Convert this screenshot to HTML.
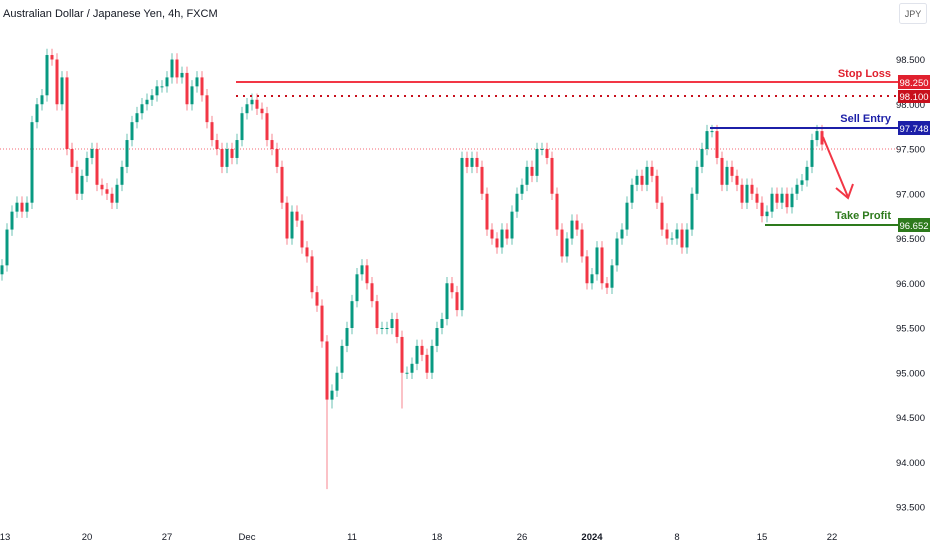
<!DOCTYPE html>
<html><head><meta charset="utf-8"><style>
body{margin:0;background:#fff;font-family:"Liberation Sans",sans-serif}
svg{display:block}
</style></head><body>
<svg width="932" height="550" xmlns="http://www.w3.org/2000/svg">
<text x="3" y="17" font-size="11" fill="#131722">Australian Dollar / Japanese Yen, 4h, FXCM</text>
<g><rect x="899.5" y="3.5" width="27" height="20" rx="2" fill="#fff" stroke="#e0e3eb"/><text x="913" y="17" font-size="9" fill="#555" text-anchor="middle">JPY</text></g>
<g id="yaxis"></g>
<g id="xaxis"></g>
<line x1="0" y1="149" x2="898" y2="149" stroke="#f23645" stroke-width="0.7" stroke-dasharray="1,2"/>
<g id="candles"></g>
<line x1="236" y1="82" x2="898" y2="82" stroke="#f23645" stroke-width="2"/>
<line x1="236" y1="96" x2="898" y2="96" stroke="#c8101d" stroke-width="2" stroke-dasharray="2,5"/>
<line x1="710" y1="128" x2="898" y2="128" stroke="#1c1fa8" stroke-width="2"/>
<line x1="765" y1="225" x2="898" y2="225" stroke="#2d7a1c" stroke-width="2"/>
<text x="891" y="77" font-size="11" font-weight="bold" fill="#e0202e" text-anchor="end">Stop Loss</text>
<text x="891" y="122" font-size="11" font-weight="bold" fill="#1c1fa8" text-anchor="end">Sell Entry</text>
<text x="891" y="219" font-size="11" font-weight="bold" fill="#2d7a1c" text-anchor="end">Take Profit</text>
<g><rect x="898" y="75" width="32" height="14" fill="#e0202e"/><text x="914" y="86" font-size="9.5" fill="#fff" text-anchor="middle">98.250</text></g>
<g><rect x="898" y="90" width="32" height="13" fill="#c8101d"/><text x="914" y="100" font-size="9.5" fill="#fff" text-anchor="middle">98.100</text></g>
<g><rect x="898" y="121" width="32" height="14" fill="#1c1fa8"/><text x="914" y="132" font-size="9.5" fill="#fff" text-anchor="middle">97.748</text></g>
<g><rect x="898" y="218" width="32" height="14" fill="#2d7a1c"/><text x="914" y="229" font-size="9.5" fill="#fff" text-anchor="middle">96.652</text></g>
<g stroke="#f23645" stroke-width="2" fill="none"><line x1="823" y1="137" x2="848" y2="197"/><polyline points="836,188 848,198 853,184"/></g>
</svg>
<script>
const closes=[96.2,96.6,96.8,96.9,96.8,96.9,97.8,98.0,98.1,98.55,98.5,98.0,98.3,97.5,97.3,97.0,97.2,97.4,97.5,97.1,97.05,97.0,96.9,97.1,97.3,97.6,97.8,97.9,98.0,98.05,98.1,98.2,98.2,98.3,98.5,98.3,98.35,98.0,98.2,98.3,98.1,97.8,97.6,97.5,97.3,97.5,97.4,97.6,97.9,98.0,98.05,97.95,97.9,97.6,97.5,97.3,96.9,96.5,96.8,96.7,96.4,96.3,95.9,95.75,95.35,94.7,94.8,95.0,95.3,95.5,95.8,96.1,96.2,96.0,95.8,95.5,95.5,95.5,95.6,95.4,95.0,95.0,95.1,95.3,95.2,95.0,95.3,95.5,95.6,96.0,95.9,95.7,97.4,97.3,97.4,97.3,97.0,96.6,96.5,96.4,96.6,96.5,96.8,97.0,97.1,97.3,97.2,97.5,97.5,97.4,97.0,96.6,96.3,96.5,96.7,96.6,96.3,96.0,96.1,96.4,96.0,95.95,96.2,96.5,96.6,96.9,97.1,97.2,97.1,97.3,97.2,96.9,96.6,96.5,96.5,96.6,96.4,96.6,97.0,97.3,97.5,97.7,97.7,97.4,97.1,97.3,97.2,97.1,96.9,97.1,97.0,96.9,96.75,96.8,97.0,96.9,97.0,96.85,97.0,97.1,97.15,97.3,97.6,97.7,97.55];
const firstOpen=96.1;
const lowOverrides={65:93.7,66:94.6,80:94.6};
const priceTicks=[98.5,98.0,97.5,97.0,96.5,96.0,95.5,95.0,94.5,94.0,93.5];
const timeLabels=["13","20","27","Dec","11","18","26","2024","8","15","22"];
const timeLabelIdx=[0.6,17,33,49,70,87,104,118,135,152,166];
const NS="http://www.w3.org/2000/svg";
function yS(p){return 149+(97.5-p)*89.5;}
function xS(i){return 2+i*5;}
const cg=document.getElementById('candles');
closes.forEach((c,i)=>{
 const o=i===0?firstOpen:closes[i-1];
 const up=c>=o;const col=up?"#089981":"#f23645";
 const hi=Math.max(o,c)+0.07;const lo=(lowOverrides[i]!==undefined)?lowOverrides[i]:Math.min(o,c)-0.07;
 const w=document.createElementNS(NS,'line');
 
 
 w.setAttribute('x1',xS(i));w.setAttribute('x2',xS(i));w.setAttribute('y1',yS(hi));w.setAttribute('y2',yS(lo));
 w.setAttribute('stroke',col);w.setAttribute('stroke-opacity','0.6');w.setAttribute('stroke-width','1');cg.appendChild(w);
 const b=document.createElementNS(NS,'rect');
 
 
 b.setAttribute('x',xS(i)-1.5);b.setAttribute('width',3);
 b.setAttribute('y',Math.min(yS(o),yS(c)));b.setAttribute('height',Math.max(1,Math.abs(yS(o)-yS(c))));
 b.setAttribute('fill',col);cg.appendChild(b);
});
const ya=document.getElementById('yaxis');
priceTicks.forEach(p=>{
 const t=document.createElementNS(NS,'text');
 
 
 t.setAttribute('x',925);t.setAttribute('y',yS(p)+3.5);t.setAttribute('font-size','9.5');t.setAttribute('fill','#131722');t.setAttribute('text-anchor','end');
 t.textContent=p.toFixed(3);ya.appendChild(t);
});
const xa=document.getElementById('xaxis');
timeLabels.forEach((l,k)=>{
 const t=document.createElementNS(NS,'text');
 
 
 t.setAttribute('x',xS(timeLabelIdx[k]));t.setAttribute('y',540);t.setAttribute('font-size','9.5');t.setAttribute('fill','#131722');t.setAttribute('text-anchor','middle');
 if(l==="2024")t.setAttribute('font-weight','bold');
 t.textContent=l;xa.appendChild(t);
});
</script>
</body></html>
